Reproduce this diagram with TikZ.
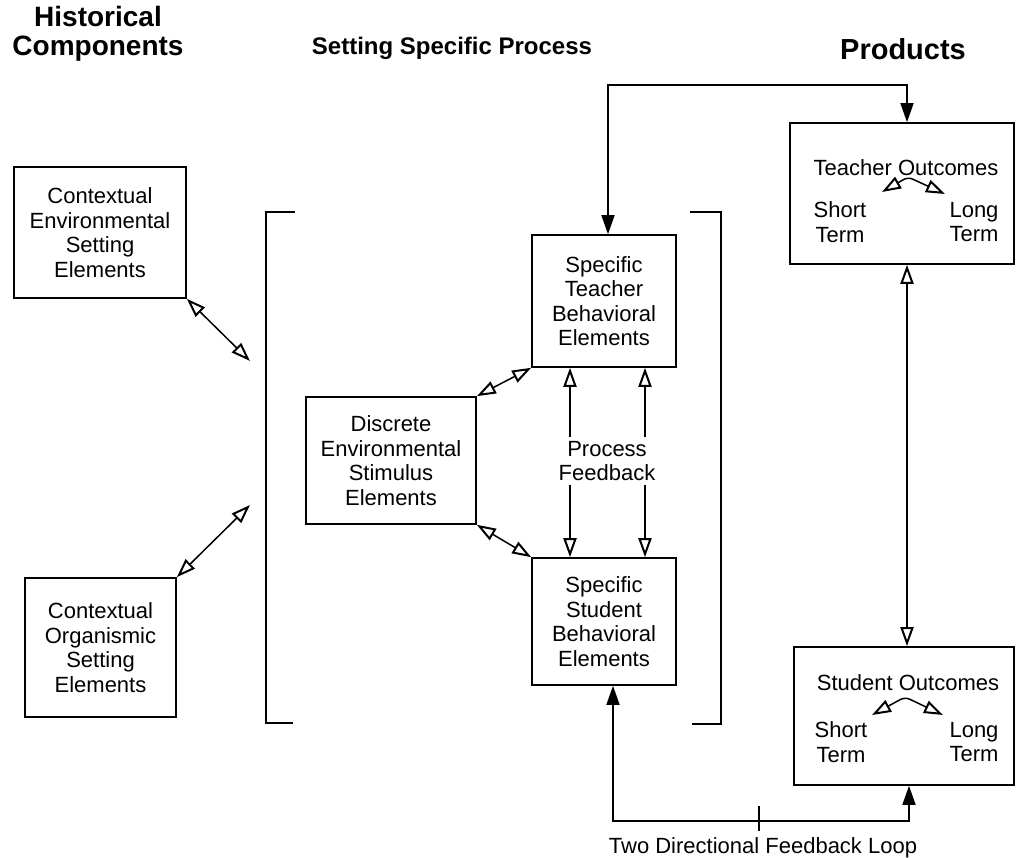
\documentclass[tikz,border=0pt]{standalone}
\usepackage{fontspec}
\setmainfont{Liberation Sans}
\usetikzlibrary{arrows.meta}
\begin{document}
\begin{tikzpicture}[x=1pt,y=-1pt,
  box/.style={draw, line width=1.6pt, inner sep=0pt, align=center, font=\fontsize{22}{24.5}\selectfont},
  txt/.style={align=center, inner sep=0pt, font=\fontsize{22}{24.5}\selectfont},
  ttl/.style={align=center, inner sep=0pt, font=\fontsize{28}{29}\selectfont\bfseries},
  oa/.style={{Triangle[open,length=19pt,width=13pt,line width=2pt]}-{Triangle[open,length=19pt,width=13pt,line width=2pt]}, line width=1.5pt},
  la/.style={{Triangle[length=19pt,width=13pt]}-{Triangle[length=19pt,width=13pt]}, line width=1.6pt},
  brk/.style={line width=2.6pt}
]
\useasboundingbox (0,0) rectangle (1018,858);

% titles
\node[ttl] (t1) at (98,34) {Historical\\Components};
\node[ttl, font=\fontsize{24}{29}\selectfont\bfseries] (t2) at (452,48) {Setting Specific Process};
\node[ttl, font=\fontsize{29}{29}\selectfont\bfseries] (t3) at (903,49) {Products};

% left boxes
\node[box, minimum width=172pt, minimum height=131pt] (ce) at (100,232.5) {Contextual\\Environmental\\Setting\\Elements};
\node[box, minimum width=151pt, minimum height=139pt] (co) at (100.5,647.5) {Contextual\\Organismic\\Setting\\Elements};

% brackets
\draw[brk] (295,212) -- (266,212) -- (266,723) -- (293,723);
\draw[brk] (690,212) -- (721,212) -- (721,724) -- (692,724);

% middle boxes
\node[box, minimum width=170pt, minimum height=127pt] (de) at (391,460.5) {Discrete\\Environmental\\Stimulus\\Elements};
\node[box, minimum width=144pt, minimum height=132pt] (tb) at (604,301) {Specific\\Teacher\\Behavioral\\Elements};
\node[box, minimum width=144pt, minimum height=127pt] (sb) at (604,621.5) {Specific\\Student\\Behavioral\\Elements};

% product boxes
\node[draw, line width=1.6pt, minimum width=224pt, minimum height=141pt] (to) at (902,193.5) {};
\node[draw, line width=1.6pt, minimum width=220pt, minimum height=138pt] (so) at (904,716) {};
\node[txt] (toT) at (906,168) {Teacher Outcomes};
\node[txt] (toS) at (840,222) {Short\\Term};
\node[txt] (toL) at (974,222) {Long\\Term};
\node[txt] (soT) at (908,683) {Student Outcomes};
\node[txt] (soS) at (841,742) {Short\\Term};
\node[txt] (soL) at (974,742) {Long\\Term};

% arrow end points
\coordinate (ceE) at (250,361);
\coordinate (coE) at (250,505);
\coordinate (tl1) at (882,192);
\coordinate (tp1) at (908,177);
\coordinate (tr1) at (945,194);
\coordinate (tl2) at (872,715);
\coordinate (tp2) at (905,697);
\coordinate (tr2) at (943,715);

% left arrows
\draw[oa] (ce.south east) -- (ceE);
\draw[oa] (co.north east) -- (coE);

% discrete arrows
\draw[oa] (de.north east) -- (tb.south west);
\draw[oa] (de.south east) -- (sb.north west);

% process feedback
\draw[oa] ([xshift=-34pt]tb.south) -- ([xshift=-34pt]tb.south |- sb.north);
\draw[oa] ([xshift=41pt]tb.south) -- ([xshift=41pt]tb.south |- sb.north);
\node[txt, fill=white, inner ysep=4pt] (pf) at (607,461) {Process\\Feedback};

% outcome inner arrows
\draw[oa, rounded corners=5pt] (tl1) -- (tp1) -- (tr1);
\draw[oa, rounded corners=5pt] (tl2) -- (tp2) -- (tr2);

% outcomes link
\draw[oa] ([xshift=5pt]to.south) -- ([xshift=5pt]to.south |- so.north);

% top loop
\draw[la] ([xshift=4pt]tb.north) -- ++(0,-149) -| ([xshift=5pt]to.north);

% bottom loop
\draw[la] ([xshift=9pt]sb.south) -- ++(0,135) -| ([xshift=5pt]so.south);
\draw[line width=2pt] (759,806) -- (759,831);
\node[txt] (fb) at (763,848) {Two Directional Feedback Loop};
\end{tikzpicture}
\end{document}
